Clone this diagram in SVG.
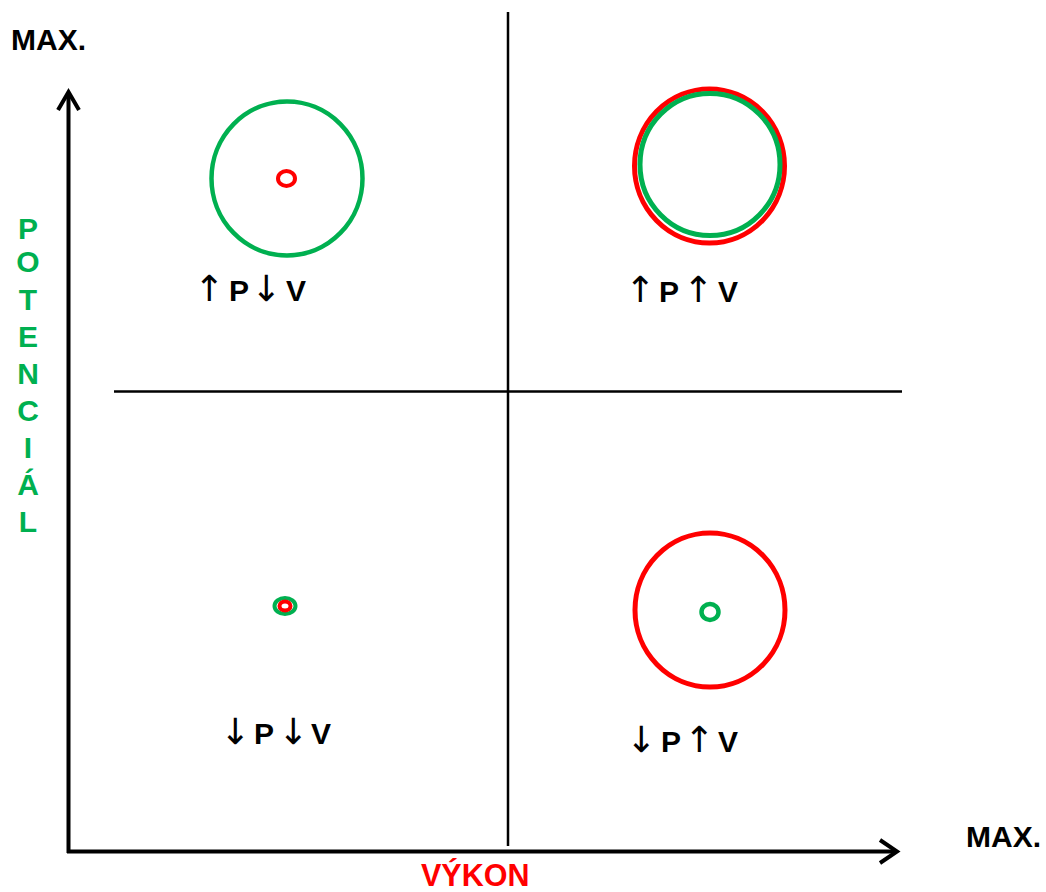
<svg xmlns="http://www.w3.org/2000/svg" width="1046" height="892" viewBox="0 0 1046 892">
<style>
.ax{stroke:#000;stroke-width:4;fill:none;stroke-linecap:butt}
.ah{stroke:#000;stroke-width:4;fill:none;stroke-linejoin:miter}
.dv{stroke:#000;stroke-width:2.5;fill:none}
.g{stroke:#00B050;fill:none}
.r{stroke:#FF0000;fill:none}
.lbl{font-family:"Liberation Sans",Arial,sans-serif;font-size:30px;font-weight:bold;fill:#000}
.arw{font-family:"DejaVu Sans",sans-serif;font-weight:normal;font-size:36px}
.pot{font-family:"Liberation Sans",Arial,sans-serif;font-size:30px;font-weight:bold;fill:#00B050;text-anchor:middle}
</style>
<rect width="1046" height="892" fill="#fff"/>
<g id="connectors">
  <line class="dv" x1="508" y1="12" x2="508" y2="846"/>
  <line class="dv" x1="114" y1="391.5" x2="902" y2="391.5"/>
  <line class="ax" x1="68.5" y1="853" x2="68.5" y2="93"/>
  <polyline class="ah" points="58,110 68.5,92 79,110"/>
  <line class="ax" x1="67" y1="851.5" x2="895" y2="851.5"/>
  <polyline class="ah" points="880,840 897,851.5 880,863"/>
</g>
<g id="axis-labels">
  <text class="lbl" x="11" y="50">MAX.</text>
  <text class="lbl" x="966" y="847">MAX.</text>
  <text class="lbl" x="421" y="885.5" style="fill:#FF0000;font-size:30.5px">VÝKON</text>
  <text class="pot" x="28"><tspan x="28" y="238.5">P</tspan><tspan x="28" y="272">O</tspan><tspan x="28" y="310">T</tspan><tspan x="28" y="346.5">E</tspan><tspan x="28" y="384">N</tspan><tspan x="28" y="421">C</tspan><tspan x="28" y="458">I</tspan><tspan x="28" y="495">Á</tspan><tspan x="28" y="531.5">L</tspan></text>
</g>
<g id="q-top-left">
  <ellipse class="g" cx="287" cy="178.5" rx="75.5" ry="77" stroke-width="4.5"/>
  <ellipse class="r" cx="286.5" cy="178.5" rx="8.5" ry="7.5" stroke-width="4"/>
  <text class="lbl" y="301"><tspan class="arw" x="194">↑</tspan><tspan x="229">P</tspan><tspan class="arw" x="251">↓</tspan><tspan x="286">V</tspan></text>
</g>
<g id="q-top-right">
  <ellipse class="r" cx="709.5" cy="166" rx="75" ry="77" stroke-width="5"/>
  <ellipse class="g" cx="710" cy="164.5" rx="70" ry="71" stroke-width="5"/>
  <text class="lbl" y="301.5"><tspan class="arw" x="625">↑</tspan><tspan x="659">P</tspan><tspan class="arw" x="683">↑</tspan><tspan x="718">V</tspan></text>
</g>
<g id="q-bottom-left">
  <ellipse class="g" cx="285" cy="606" rx="10.5" ry="8" stroke-width="4"/>
  <ellipse cx="285" cy="606" rx="5.5" ry="4.5" stroke="#FF0000" stroke-width="4" fill="#fff"/>
  <text class="lbl" y="744"><tspan class="arw" x="220">↓</tspan><tspan x="254">P</tspan><tspan class="arw" x="278">↓</tspan><tspan x="311">V</tspan></text>
</g>
<g id="q-bottom-right">
  <ellipse class="r" cx="710" cy="610" rx="75" ry="77" stroke-width="5"/>
  <ellipse class="g" cx="710" cy="612" rx="8.5" ry="8" stroke-width="4.5"/>
  <text class="lbl" y="751.5"><tspan class="arw" x="626">↓</tspan><tspan x="661">P</tspan><tspan class="arw" x="684">↑</tspan><tspan x="718">V</tspan></text>
</g>
</svg>
